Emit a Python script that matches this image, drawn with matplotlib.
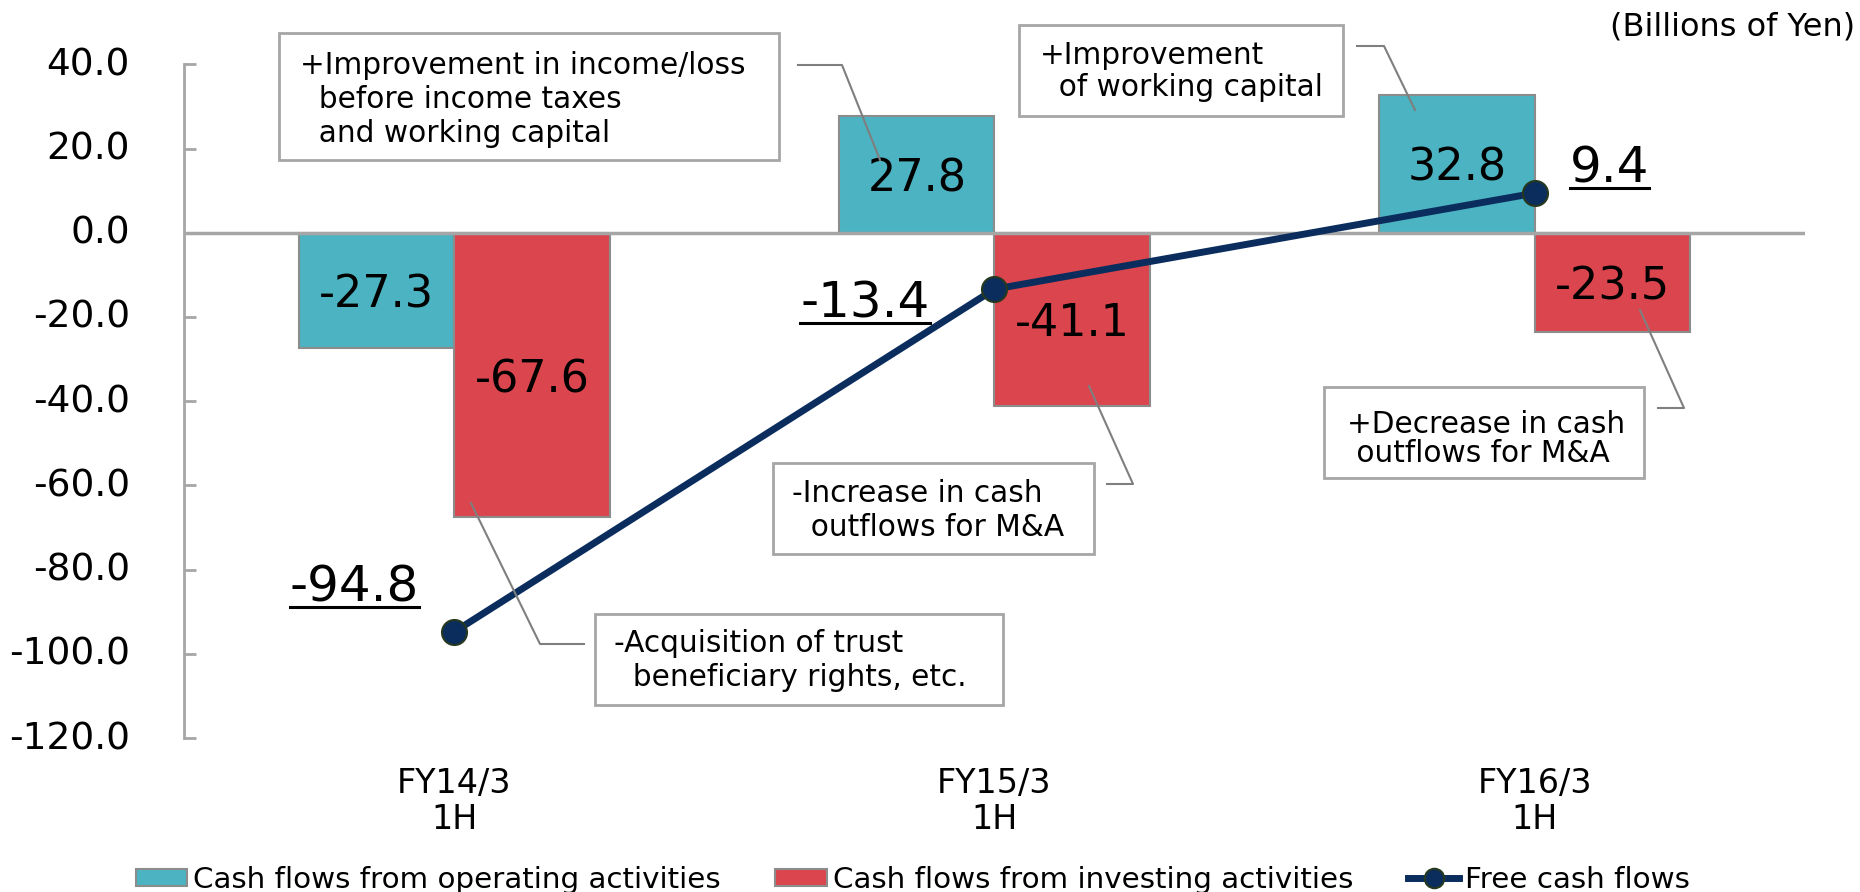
import numpy as np
import matplotlib
matplotlib.use("Agg")
import matplotlib.pyplot as plt
import matplotlib.transforms as mtransforms
from matplotlib.patches import Rectangle, Patch
from matplotlib.lines import Line2D

# ---------------- data ----------------
categories = ["FY14/3\n1H", "FY15/3\n1H", "FY16/3\n1H"]
operating = [-27.3, 27.8, 32.8]
investing = [-67.6, -41.1, -23.5]
free_cf = [-94.8, -13.4, 9.4]
series_names = ["Cash flows from operating activities",
                "Cash flows from investing activities",
                "Free cash flows"]
yticks = [40, 20, 0, -20, -40, -60, -80, -100, -120]
unit_label = "(Billions of Yen)"

notes = [
    ["+Improvement in income/loss", "  before income taxes", "  and working capital"],
    ["+Improvement", "  of working capital"],
    ["-Increase in cash", "  outflows for M&A"],
    ["+Decrease in cash", " outflows for M&A"],
    ["-Acquisition of trust", "  beneficiary rights, etc."],
]

# ---------------- style ----------------
C_OP = "#4bb3c1"
C_INV = "#db454e"
C_FCF = "#0b2d5e"
C_GRAY = "#a6a6a6"
C_EDGE = "#8c8c8c"
FONT = "DejaVu Sans"
plt.rcParams["font.family"] = [FONT]

W, H = 1860, 892
fig = plt.figure(figsize=(W / 100, H / 100), dpi=100)
ax = fig.add_axes([184 / W, 1 - 738 / H, (1805 - 184) / W, (738 - 64.3) / H])


def P(x, y):
    """pixel (from top-left) -> figure fraction"""
    return x / W, 1 - y / H


x = np.arange(len(categories))
bw = 0.2876
b1 = ax.bar(x - bw / 2, operating, bw, color=C_OP, edgecolor=C_EDGE, lw=1.5, zorder=2)
b2 = ax.bar(x + bw / 2, investing, bw, color=C_INV, edgecolor=C_EDGE, lw=1.5, zorder=2)
ax.axhline(0, color=C_GRAY, lw=2.5, zorder=3)
for bars, vals in ((b1, operating), (b2, investing)):
    for t in ax.bar_label(bars, labels=[f"{v:.1f}" for v in vals], label_type="center",
                          fontsize=32, zorder=6):
        t.set_va("center_baseline")

ax.plot(x, free_cf, color=C_FCF, lw=5, marker="o", ms=18, mfc=C_FCF,
        mec="#26391f", mew=1.5, zorder=5, solid_capstyle="round")

ax.set_xlim(-0.5, 2.5)
ax.set_ylim(-120, 40)
ax.set_yticks(yticks)
ax.set_yticklabels([f"{v:.1f}" for v in yticks])
ax.set_xticks(x)
ax.set_xticklabels(categories, linespacing=1.1)
for s in ["top", "right", "bottom"]:
    ax.spines[s].set_visible(False)
ax.spines["left"].set_color(C_GRAY)
ax.spines["left"].set_linewidth(2)
ax.tick_params(axis="y", direction="in", length=8.6, width=2, color=C_GRAY,
               labelsize=27, pad=39)
ax.tick_params(axis="x", length=0, labelsize=24, pad=21)
up = mtransforms.ScaledTranslation(0, 3 / 100, fig.dpi_scale_trans)
for lab in ax.get_yticklabels():
    lab.set_transform(lab.get_transform() + up)

# free cash flow labels (underlined)
fcf_offsets = [(-35, 30, "right"), (-65, -28.6, "right"), (35, 10.4, "left")]
fcf_texts = []
for xi, v, (dx, dy, ha) in zip(x, free_cf, fcf_offsets):
    t = ax.annotate(f"{v:.1f}", (xi, v), xytext=(dx, dy), textcoords="offset pixels",
                    ha=ha, va="baseline", fontsize=36, zorder=7)
    fcf_texts.append((t, xi, v, dx, dy))

# annotation boxes
boxes = [
    (279, 33, 779, 160, [(300, 66), (300, 100), (300, 133)]),
    (1019, 25, 1343, 116, [(1040, 55), (1040, 87)]),
    (773, 463, 1094, 554, [(792, 493), (792, 527)]),
    (1324, 387, 1644, 478, [(1347, 424), (1347, 454)]),
    (595, 614, 1003, 705, [(614, 643), (614, 678)]),
]
for (x0, y0, x1, y1, pos), lines in zip(boxes, notes):
    fx0, fy1 = P(x0, y1)
    fx1, fy0 = P(x1, y0)
    fig.add_artist(Rectangle((fx0, fy1), fx1 - fx0, fy0 - fy1, transform=fig.transFigure,
                             facecolor="white", edgecolor=C_GRAY, lw=2, zorder=8))
    for (tx, ty), line in zip(pos, lines):
        fig.text(*P(tx, ty), line, ha="left", va="center", fontsize=21.3, zorder=9)

leaders = [
    [(798, 65), (842, 65), (880, 160)],
    [(1357, 46), (1384, 46), (1415, 110)],
    [(1107, 484), (1133, 484), (1089, 386)],
    [(1658, 408), (1684, 408), (1640, 310)],
    [(584, 644), (540, 644), (471, 503)],
]
for pts in leaders:
    xs, ys = zip(*[P(px, py) for px, py in pts])
    fig.add_artist(Line2D(xs, ys, transform=fig.transFigure, color="#7f7f7f", lw=1.5,
                          zorder=8))

fig.text(*P(1855, 27), unit_label, ha="right", va="center", fontsize=23)

# legend
handles = [
    Patch(facecolor=C_OP, edgecolor=C_EDGE, lw=1.5),
    Patch(facecolor=C_INV, edgecolor=C_EDGE, lw=1.5),
    Line2D([], [], color=C_FCF, lw=5, marker="o", ms=14, mfc=C_FCF, mec="#26391f",
           mew=1.5),
]
fig.legend(handles, series_names, loc="center", ncol=3, frameon=False, fontsize=21.2,
           bbox_to_anchor=P(913, 880), bbox_transform=fig.transFigure,
           handlelength=1.75, handleheight=0.55, handletextpad=0.2, columnspacing=1.85,
           borderaxespad=0, borderpad=0)

# underlines for free cash flow labels
fig.canvas.draw()
renderer = fig.canvas.get_renderer()
for t, xi, v, dx, dy in fcf_texts:
    bb = t.get_window_extent(renderer)
    px, py = ax.transData.transform((xi, v))
    base = py + dy - 5
    fig.add_artist(Line2D([bb.x0 / W, bb.x1 / W], [base / H, base / H],
                          transform=fig.transFigure, color="black", lw=2.2, zorder=9))

fig.savefig("out.png", dpi=100)
